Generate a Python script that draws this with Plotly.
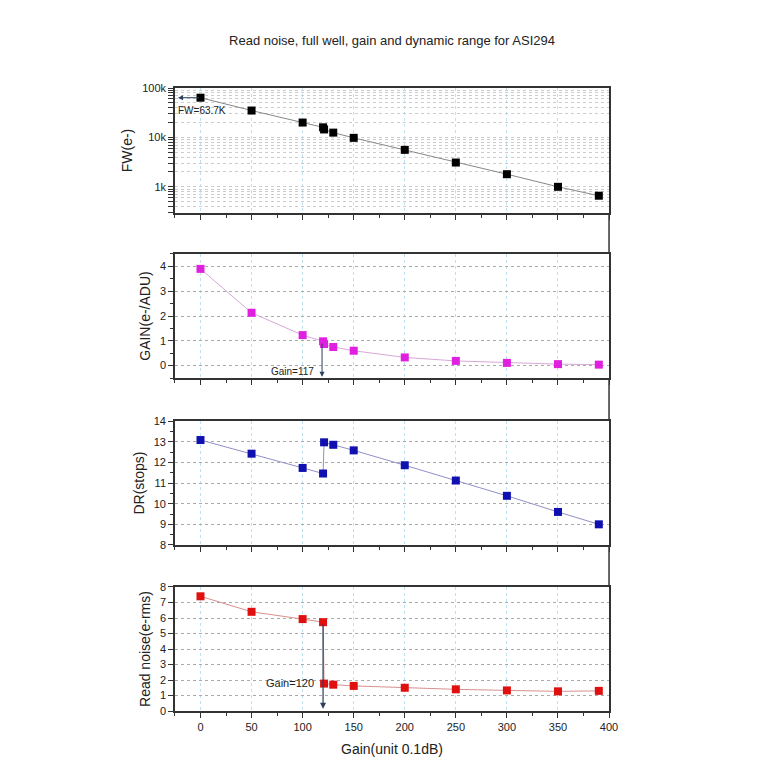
import plotly.graph_objects as go

gain = [0, 50, 100, 120, 121, 130, 150, 200, 250, 300, 350, 390]
fw = [63700, 35000, 20000, 16000, 14500, 12500, 9800, 5600, 3100, 1800, 1000, 660]
conv_gain = [3.9, 2.13, 1.23, 0.98, 0.87, 0.75, 0.6, 0.33, 0.19, 0.11, 0.06, 0.04]
dr = [13.08, 12.42, 11.73, 11.46, 12.97, 12.85, 12.58, 11.86, 11.12, 10.38, 9.6, 9.0]
read_noise = [7.4, 6.4, 5.93, 5.73, 1.77, 1.7, 1.62, 1.5, 1.4, 1.33, 1.27, 1.3]

fw_ticks = [m * 10 ** e for e in (2, 3, 4) for m in range(1, 10)] + [100000]
fw_labels = {1000: "1k", 10000: "10k", 100000: "100k"}

FONT = "Liberation Sans, Arial, sans-serif"
panels = [
    ("y", fw, "black", "#888888", "FW(e-)", [0.7331, 0.8958]),
    ("y2", conv_gain, "#e020e0", "#d8a8d8", "GAIN(e-/ADU)", [0.5182, 0.6797]),
    ("y3", dr, "#1010b0", "#9090c8", "DR(stops)", [0.3008, 0.4622]),
    ("y4", read_noise, "#e01010", "#d89090", "Read noise(e-rms)", [0.0846, 0.2461]),
]

fig = go.Figure()
for i, (ya, vals, mc, lc, title, dom) in enumerate(panels):
    xa = "x" if i == 0 else f"x{i + 1}"
    fig.add_trace(go.Scatter(
        x=gain, y=vals, xaxis=xa, yaxis=ya, mode="lines+markers",
        line=dict(color=lc, width=1),
        marker=dict(symbol="square", size=8, color=mc),
        showlegend=False,
    ))
    xkey = "xaxis" if i == 0 else f"xaxis{i + 1}"
    ykey = "yaxis" if i == 0 else f"yaxis{i + 1}"
    fig.layout[xkey] = dict(
        domain=[0.2174, 0.7826], range=[-25, 400], anchor=ya, automargin=False,
        dtick=50, showline=True, mirror=True, linecolor="#333", linewidth=1.5,
        ticks="outside", ticklen=5, tickcolor="#333",
        minor=dict(ticks="outside", ticklen=3, dtick=25, tickcolor="#333", showgrid=False),
        showgrid=True, gridcolor="#bfe0ee", griddash="dot",
        showticklabels=(i == 3), zeroline=False,
        tickfont=dict(size=11, family=FONT, color="#222"),
    )
    ydict = dict(
        domain=dom, anchor=xa, automargin=False,
        showline=True, mirror=True, linecolor="#333", linewidth=1.5,
        ticks="outside", ticklen=5, tickcolor="#333",
        showgrid=True, gridcolor="#aaaaaa", griddash="dot", zeroline=False,
        tickfont=dict(size=11, family=FONT, color="#222"),
        title=dict(text=title, font=dict(size=14, family=FONT, color="#222"), standoff=6),
    )
    if i == 0:
        ydict.update(type="log", range=[2.47, 5], tickvals=fw_ticks,
                     ticktext=[fw_labels.get(v, "") for v in fw_ticks],
                     gridcolor="#cccccc")
    elif i == 1:
        ydict.update(range=[-0.5, 4.5], dtick=1,
                     minor=dict(ticks="outside", ticklen=3, dtick=0.5, tickcolor="#333"))
    elif i == 2:
        ydict.update(range=[8, 14], dtick=1,
                     minor=dict(ticks="outside", ticklen=3, dtick=0.5, tickcolor="#333"))
    else:
        ydict.update(range=[0, 8], dtick=1)
    fig.layout[ykey] = ydict

# right border of the gap regions between panels
for y0, y1 in [(0.6797, 0.7331), (0.4622, 0.5182), (0.2461, 0.3008)]:
    fig.add_shape(type="line", xref="paper", yref="paper", x0=0.7826, x1=0.7826,
                  y0=y0, y1=y1, line=dict(color="#333", width=1.5))

afont = dict(size=10, family=FONT, color="#222")
fig.add_annotation(x=-22, y=4.804, ax=0, ay=4.804, xref="x", yref="y", axref="x", ayref="y",
                   showarrow=True, arrowhead=2, arrowsize=1, arrowwidth=1, text="")
fig.add_annotation(x=-24, y=4.55, xref="x", yref="y", text="FW=63.7K", showarrow=False,
                   xanchor="left", font=afont)
fig.add_annotation(x=119, y=-0.45, ax=119, ay=0.95, xref="x2", yref="y2", axref="x2", ayref="y2",
                   showarrow=True, arrowhead=2, arrowsize=1, arrowwidth=1, text="")
fig.add_annotation(x=113, y=-0.22, xref="x2", yref="y2", text="Gain=117", showarrow=False,
                   xanchor="right", font=afont)
fig.add_annotation(x=120, y=0.15, ax=120, ay=5.7, xref="x4", yref="y4", axref="x4", ayref="y4",
                   showarrow=True, arrowhead=2, arrowsize=1, arrowwidth=1.2, text="")
fig.add_annotation(x=113, y=1.8, xref="x4", yref="y4", text="Gain=120", showarrow=False,
                   xanchor="right", font=dict(size=11, family=FONT, color="#222"))

fig.add_annotation(x=0.5, y=1 - 741 / 768, xref="paper", yref="paper", text="Gain(unit 0.1dB)",
                   showarrow=False, yanchor="middle", font=dict(size=14, family=FONT, color="#222"))

fig.update_layout(
    width=768, height=768,
    margin=dict(l=0, r=0, t=0, b=0),
    paper_bgcolor="white", plot_bgcolor="white",
    title=dict(text="Read noise, full well, gain and dynamic range for ASI294",
               x=0.5, y=1 - 32 / 768, xanchor="center", yanchor="middle",
               font=dict(size=13, family=FONT, color="#222")),
)

fig.write_html("out.html")
